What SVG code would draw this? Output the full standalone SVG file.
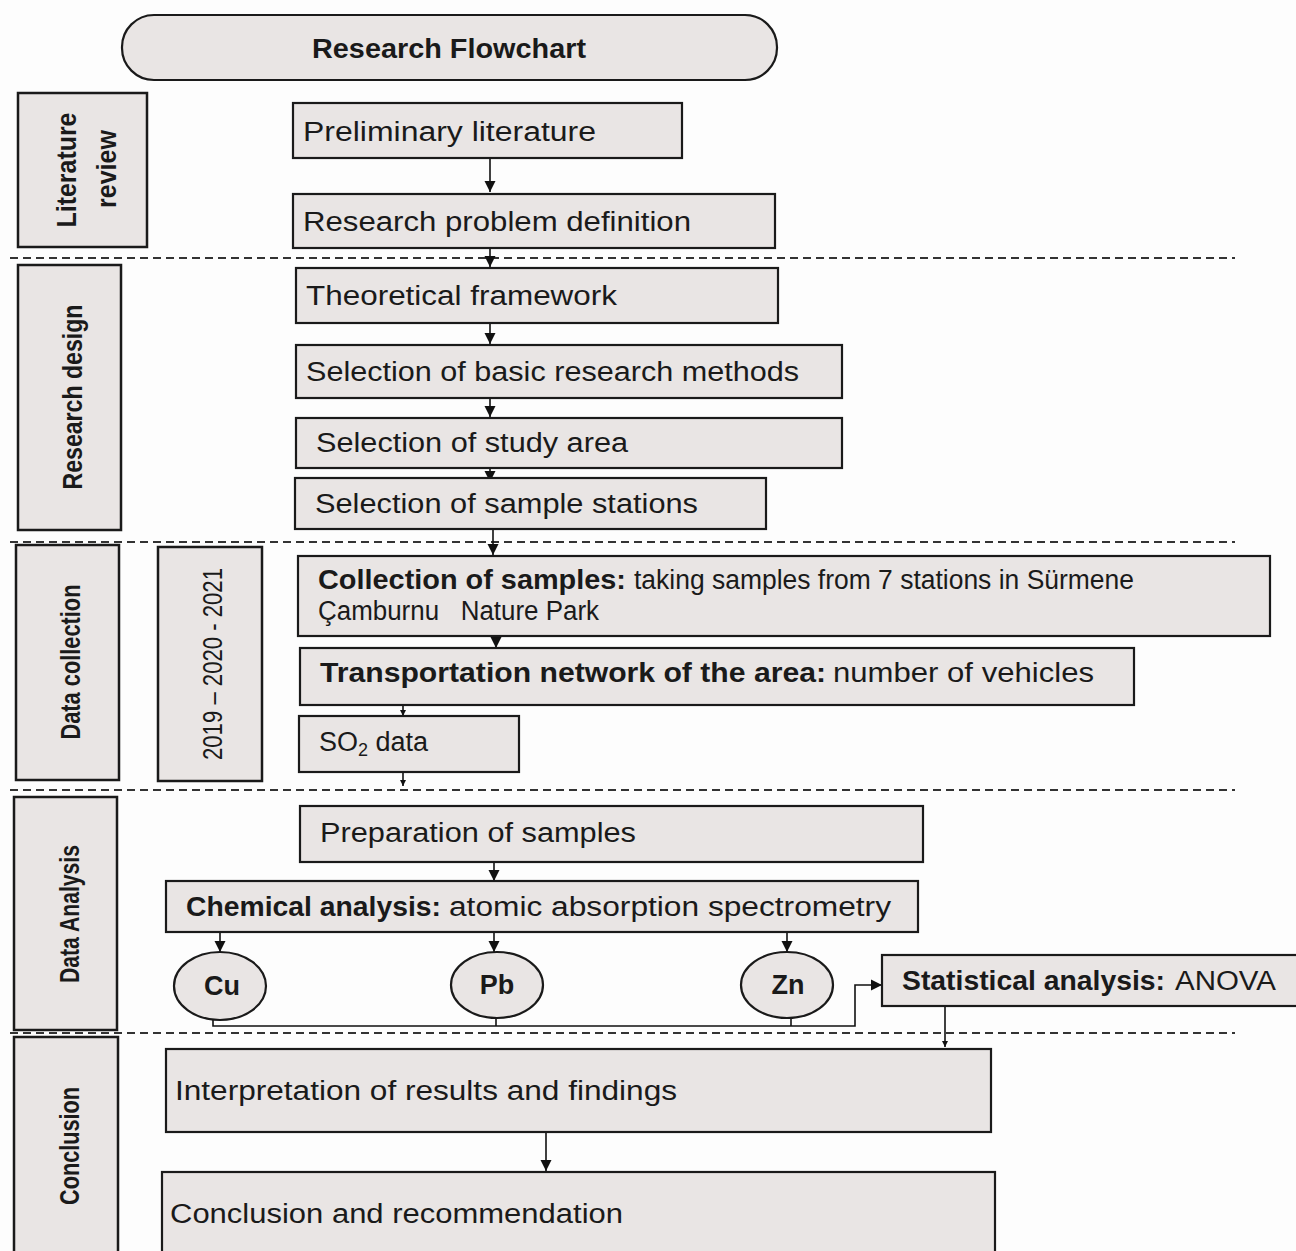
<svg xmlns="http://www.w3.org/2000/svg" width="1296" height="1251" viewBox="0 0 1296 1251">
<defs>
<marker id="ah" viewBox="0 0 10 10" refX="10" refY="5" markerWidth="11" markerHeight="13" markerUnits="userSpaceOnUse" orient="auto"><path d="M0,0 L10,5 L0,10 Z" fill="#111"/></marker>
<marker id="ahs" viewBox="0 0 10 10" refX="10" refY="5" markerWidth="7" markerHeight="6" markerUnits="userSpaceOnUse" orient="auto"><path d="M0,0 L10,5 L0,10 Z" fill="#111"/></marker>
<style>
.box{fill:#e9e5e4;stroke:#1a1a1a;stroke-width:2.2}
.side{fill:#e9e5e4;stroke:#1a1a1a;stroke-width:2.5}
.t{font-family:"Liberation Sans",Arial,sans-serif;font-size:27px;fill:#1a1a1a}
.b{font-weight:bold}
.s{font-family:"Liberation Sans",Arial,sans-serif;font-size:28px;font-weight:bold;fill:#1a1a1a}
.y{font-family:"Liberation Sans",Arial,sans-serif;font-size:27px;fill:#1a1a1a}
.c{stroke:#111;stroke-width:1.6;fill:none}
.d{stroke:#333;stroke-width:1.8;stroke-dasharray:8 5;fill:none}
</style>
</defs>
<rect width="1296" height="1251" fill="#fdfdfd"/>

<g id="dividers">
<line class="d" x1="10" y1="258" x2="1235" y2="258"/>
<line class="d" x1="10" y1="542" x2="1235" y2="542"/>
<line class="d" x1="10" y1="790" x2="1235" y2="790"/>
<line class="d" x1="10" y1="1033" x2="1235" y2="1033"/>
</g>

<g id="title">
<rect class="box" x="122" y="15" width="655" height="65" rx="32" ry="32"/>
<text class="t b" x="449" y="58" text-anchor="middle" font-size="26" textLength="274" lengthAdjust="spacingAndGlyphs">Research Flowchart</text>
</g>

<g id="side-literature">
<rect class="side" x="18" y="93" width="129" height="154"/>
<text class="s" transform="translate(76,170) rotate(-90)" text-anchor="middle" textLength="115" lengthAdjust="spacingAndGlyphs">Literature</text>
<text class="s" transform="translate(116,169) rotate(-90)" text-anchor="middle" textLength="78" lengthAdjust="spacingAndGlyphs">review</text>
</g>
<g id="side-design">
<rect class="side" x="18" y="265" width="103" height="265"/>
<text class="s" transform="translate(82,397) rotate(-90)" text-anchor="middle" textLength="185" lengthAdjust="spacingAndGlyphs">Research design</text>
</g>
<g id="side-collection">
<rect class="side" x="16" y="545" width="103" height="235"/>
<text class="s" transform="translate(80,662) rotate(-90)" text-anchor="middle" textLength="155" lengthAdjust="spacingAndGlyphs">Data collection</text>
</g>
<g id="side-years">
<rect class="side" x="158" y="547" width="104" height="234"/>
<text class="y" transform="translate(222,664) rotate(-90)" text-anchor="middle" textLength="192" lengthAdjust="spacingAndGlyphs">2019 – 2020 - 2021</text>
</g>
<g id="side-analysis">
<rect class="side" x="14" y="797" width="103" height="233"/>
<text class="s" transform="translate(79,914) rotate(-90)" text-anchor="middle" textLength="138" lengthAdjust="spacingAndGlyphs">Data Analysis</text>
</g>
<g id="side-conclusion">
<rect class="side" x="14" y="1037" width="104" height="230"/>
<text class="s" transform="translate(79,1146) rotate(-90)" text-anchor="middle" textLength="118" lengthAdjust="spacingAndGlyphs">Conclusion</text>
</g>

<g id="connectors">
<line class="c" x1="490" y1="158" x2="490" y2="192" marker-end="url(#ah)"/>
<line class="c" x1="490" y1="248" x2="490" y2="267" marker-end="url(#ah)"/>
<line class="c" x1="490" y1="323" x2="490" y2="344" marker-end="url(#ah)"/>
<line class="c" x1="490" y1="398" x2="490" y2="417" marker-end="url(#ah)"/>
<line class="c" x1="490" y1="468" x2="490" y2="482" marker-end="url(#ah)"/>
<line class="c" x1="493" y1="529" x2="493" y2="555" marker-end="url(#ah)"/>
<line class="c" x1="496" y1="636" x2="496" y2="648" marker-end="url(#ah)"/>
<line class="c" x1="403" y1="705" x2="403" y2="716" marker-end="url(#ahs)"/>
<line class="c" x1="403" y1="772" x2="403" y2="786" marker-end="url(#ahs)"/>
<line class="c" x1="494" y1="862" x2="494" y2="881" marker-end="url(#ah)"/>
<line class="c" x1="220" y1="932" x2="220" y2="952" marker-end="url(#ah)"/>
<line class="c" x1="494" y1="932" x2="494" y2="952" marker-end="url(#ah)"/>
<line class="c" x1="787" y1="932" x2="787" y2="952" marker-end="url(#ah)"/>
<polyline class="c" points="213,1019 213,1026 855,1026 855,985 882,985" marker-end="url(#ah)"/>
<line class="c" x1="496" y1="1018" x2="496" y2="1026"/>
<line class="c" x1="791" y1="1018" x2="791" y2="1026"/>
<line class="c" x1="945" y1="1006" x2="945" y2="1047" marker-end="url(#ahs)"/>
<line class="c" x1="546" y1="1132" x2="546" y2="1171" marker-end="url(#ah)"/>
</g>

<g id="n-prelim">
<rect class="box" x="293" y="103" width="389" height="55"/>
<text class="t" x="303" y="141" textLength="293" lengthAdjust="spacingAndGlyphs">Preliminary literature</text>
</g>
<g id="n-problem">
<rect class="box" x="293" y="194" width="482" height="54"/>
<text class="t" x="303" y="231" textLength="388" lengthAdjust="spacingAndGlyphs">Research problem definition</text>
</g>
<g id="n-theory">
<rect class="box" x="296" y="268" width="482" height="55"/>
<text class="t" x="306" y="305" textLength="311" lengthAdjust="spacingAndGlyphs">Theoretical framework</text>
</g>
<g id="n-methods">
<rect class="box" x="296" y="345" width="546" height="53"/>
<text class="t" x="306" y="381" textLength="493" lengthAdjust="spacingAndGlyphs">Selection of basic research methods</text>
</g>
<g id="n-area">
<rect class="box" x="296" y="418" width="546" height="50"/>
<text class="t" x="316" y="452" textLength="312" lengthAdjust="spacingAndGlyphs">Selection of study area</text>
</g>
<g id="n-stations">
<rect class="box" x="295" y="478" width="471" height="51"/>
<text class="t" x="315" y="513" textLength="383" lengthAdjust="spacingAndGlyphs">Selection of sample stations</text>
</g>
<g id="n-collection">
<rect class="box" x="298" y="556" width="972" height="80"/>
<text class="t b" x="318" y="589" textLength="308" lengthAdjust="spacingAndGlyphs">Collection of samples:</text>
<text class="t" x="634" y="589" font-size="23" textLength="500" lengthAdjust="spacingAndGlyphs">taking samples from 7 stations in Sürmene</text>
<text class="t" x="318" y="620" font-size="23" xml:space="preserve" style="white-space:pre" textLength="281" lengthAdjust="spacingAndGlyphs">Çamburnu   Nature Park</text>
</g>
<g id="n-transport">
<rect class="box" x="300" y="648" width="834" height="57"/>
<text class="t b" x="320" y="682" textLength="506" lengthAdjust="spacingAndGlyphs">Transportation network of the area:</text>
<text class="t" x="833" y="682" textLength="261" lengthAdjust="spacingAndGlyphs">number of vehicles</text>
</g>
<g id="n-so2">
<rect class="box" x="299" y="716" width="220" height="56"/>
<text class="t" x="319" y="751">SO<tspan font-size="18" dy="5">2</tspan><tspan dy="-5"> data</tspan></text>
</g>
<g id="n-prep">
<rect class="box" x="300" y="806" width="623" height="56"/>
<text class="t" x="320" y="842" textLength="316" lengthAdjust="spacingAndGlyphs">Preparation of samples</text>
</g>
<g id="n-chem">
<rect class="box" x="166" y="881" width="752" height="51"/>
<text class="t b" x="186" y="916" textLength="255" lengthAdjust="spacingAndGlyphs">Chemical analysis:</text>
<text class="t" x="449" y="916" textLength="442" lengthAdjust="spacingAndGlyphs">atomic absorption spectrometry</text>
</g>
<g id="n-cu">
<ellipse class="box" cx="220" cy="986" rx="46" ry="34"/>
<text class="t b" x="222" y="995" text-anchor="middle" font-size="25">Cu</text>
</g>
<g id="n-pb">
<ellipse class="box" cx="497" cy="985" rx="46" ry="33"/>
<text class="t b" x="497" y="994" text-anchor="middle" font-size="25">Pb</text>
</g>
<g id="n-zn">
<ellipse class="box" cx="787" cy="985" rx="46" ry="33"/>
<text class="t b" x="788" y="994" text-anchor="middle" font-size="25">Zn</text>
</g>
<g id="n-stat">
<rect class="box" x="882" y="955" width="420" height="51"/>
<text class="t b" x="902" y="990" textLength="263" lengthAdjust="spacingAndGlyphs">Statistical analysis:</text>
<text class="t" x="1175" y="990" textLength="101" lengthAdjust="spacingAndGlyphs">ANOVA</text>
</g>
<g id="n-interp">
<rect class="box" x="166" y="1049" width="825" height="83"/>
<text class="t" x="175" y="1100" textLength="502" lengthAdjust="spacingAndGlyphs">Interpretation of results and findings</text>
</g>
<g id="n-concl">
<rect class="box" x="162" y="1172" width="833" height="100"/>
<text class="t" x="170" y="1223" textLength="453" lengthAdjust="spacingAndGlyphs">Conclusion and recommendation</text>
</g>
</svg>
